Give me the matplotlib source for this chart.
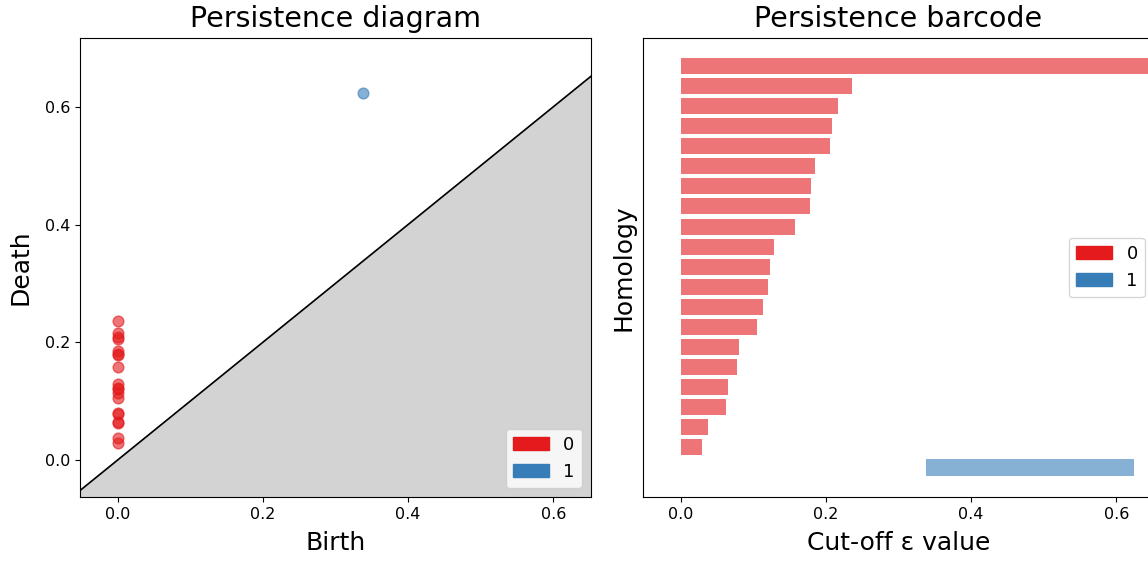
import numpy as np
import matplotlib.pyplot as plt
import matplotlib.patches as mpatches

# ==================== DATA ====================
# H0 deaths (all born at 0), shortest first; last one never dies
h0_births = [0.0] * 20
h0_deaths = [0.029, 0.038, 0.063, 0.065, 0.078, 0.080, 0.105, 0.113, 0.120, 0.123,
             0.129, 0.158, 0.178, 0.180, 0.185, 0.205, 0.209, 0.216, 0.236, np.inf]
h1_births = [0.338]
h1_deaths = [0.624]

dims = ["0", "1"]
colors = ["#e41a1c", "#377eb8"]

lo, hi = -0.052, 0.652
tick_vals = [0.0, 0.2, 0.4, 0.6]

fig = plt.figure(figsize=(11.48, 5.62), dpi=100)
ax1 = fig.add_axes([80 / 1148, 1 - 497 / 562, 511 / 1148, 459 / 562])
ax2 = fig.add_axes([643 / 1148, 1 - 497 / 562, 511 / 1148, 459 / 562])

# ==================== PERSISTENCE DIAGRAM ====================
diag_x = np.array([lo, hi])
ax1.fill_between(diag_x, lo - 1, diag_x, color="lightgrey")
ax1.plot(diag_x, diag_x, color="black", linewidth=1.2)

fin0 = [(b, d) for b, d in zip(h0_births, h0_deaths) if np.isfinite(d)]
ax1.scatter([p[0] for p in fin0], [p[1] for p in fin0], color=colors[0], alpha=0.6, s=60,
            zorder=3)
ax1.scatter(h1_births, h1_deaths, color=colors[1], alpha=0.6, s=60, zorder=3)

ax1.set_xlim(lo, hi)
ax1.set_ylim(-0.063, 0.717)
ax1.set_xticks(tick_vals)
ax1.set_yticks(tick_vals)
ax1.tick_params(labelsize=11.5)
ax1.set_xlabel("Birth", fontsize=18, labelpad=7)
ax1.set_ylabel("Death", fontsize=18, labelpad=9)
ax1.set_title("Persistence diagram", fontsize=20.5, pad=8)
handles = [mpatches.Patch(color=c, label=l) for c, l in zip(colors, dims)]
ax1.legend(handles=handles, loc="lower right", fontsize=13)

# ==================== PERSISTENCE BARCODE ====================
bars = [(b, d, 1) for b, d in zip(h1_births, h1_deaths)]
bars += [(b, d, 0) for b, d in zip(h0_births, h0_deaths)]
for i, (b, d, k) in enumerate(bars):
    end = d if np.isfinite(d) else hi + 1
    ax2.barh(i, end - b, left=b, height=0.8, color=colors[k], alpha=0.6, linewidth=0)

ax2.set_xlim(lo, hi)
ax2.set_ylim(-1.47, 21.39)
ax2.set_xticks(tick_vals)
ax2.set_yticks([])
ax2.tick_params(labelsize=11.5)
ax2.set_xlabel("Cut-off \u03b5 value", fontsize=18, labelpad=7)
ax2.set_ylabel("Homology", fontsize=18, labelpad=5.5)
ax2.set_title("Persistence barcode", fontsize=20.5, pad=8)
ax2.legend(handles=handles, loc="center right", fontsize=13)

fig.savefig("out.png", dpi=100)
